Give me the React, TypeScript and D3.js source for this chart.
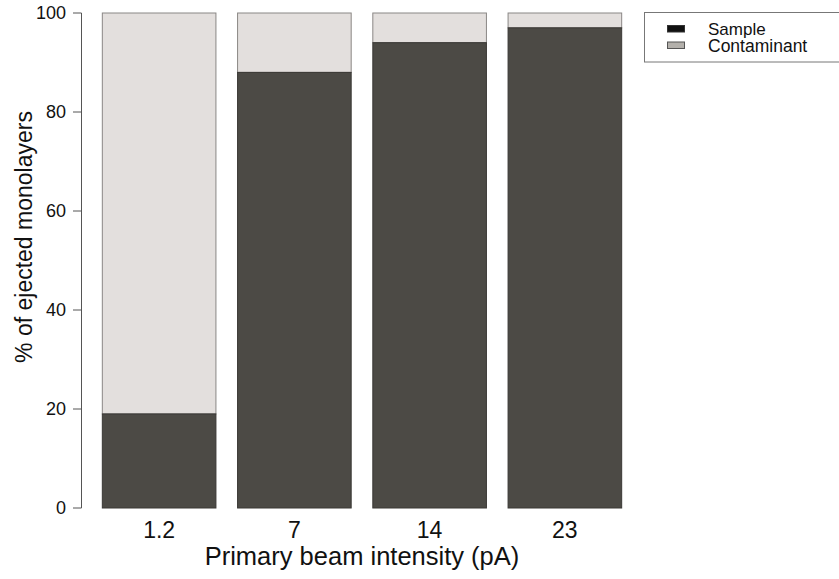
import React from "react";
import * as d3 from "d3";

const categories = ["1.2", "7", "14", "23"];
const sampleValues = [19, 88, 94, 97];
const contaminantValues = [81, 12, 6, 3];
const yTicks = [0, 20, 40, 60, 80, 100];
const legendLabels = ["Sample", "Contaminant"];

export default function App() {
  const W = 839, H = 579;
  const x = d3.scaleBand<string>().domain(categories).range([91.5, 632.5]).paddingInner(0.16).paddingOuter(0.08);
  const y = d3.scaleLinear().domain([0, 100]).range([508, 13]);
  const font = "Liberation Sans, Arial, Helvetica, sans-serif";
  const sampleFill = "#4c4a45";
  const contFill = "#e3dfdd";
  return (
    <svg width={W} height={H} style={{ position: "absolute", left: 0, top: 0 }} fontFamily={font}>
      <rect width={W} height={H} fill="#fff" />
      {categories.map((c, i) => {
        const x0 = x(c)!;
        const bw = x.bandwidth();
        const s = sampleValues[i];
        const ct = contaminantValues[i];
        return (
          <g key={c}>
            <rect x={x0} y={y(s + ct)} width={bw} height={y(s) - y(s + ct)} fill={contFill} stroke="#8a8785" strokeWidth={1} />
            <rect x={x0} y={y(s)} width={bw} height={y(0) - y(s)} fill={sampleFill} stroke="#3a3835" strokeWidth={1} />
          </g>
        );
      })}
      {/* y axis */}
      <line x1={81.5} x2={81.5} y1={y(0)} y2={y(100)} stroke="#555" strokeWidth={1} />
      {yTicks.map((t) => (
        <g key={t}>
          <line x1={73} x2={81.5} y1={y(t)} y2={y(t)} stroke="#555" strokeWidth={1} />
          <text x={66} y={y(t)} dy="0.36em" textAnchor="end" fontSize={18} fill="#111">{t}</text>
        </g>
      ))}
      <text transform={`translate(32,237) rotate(-90)`} textAnchor="middle" fontSize={23} fill="#111">% of ejected monolayers</text>
      {categories.map((c) => (
        <text key={c} x={x(c)! + x.bandwidth() / 2} y={538} textAnchor="middle" fontSize={23} fill="#111">{c}</text>
      ))}
      <text x={362} y={565} textAnchor="middle" fontSize={25.5} fill="#111">Primary beam intensity (pA)</text>
      {/* legend */}
      <rect x={644.5} y={12.5} width={200} height={49.5} fill="#fff" stroke="#777" strokeWidth={1} />
      <rect x={667.5} y={25.5} width={17} height={6.5} fill="#111" stroke="#333" strokeWidth={1} />
      <rect x={667.5} y={42} width={17} height={6.5} fill="#b3b0ab" stroke="#555" strokeWidth={1} />
      <text x={708} y={35} fontSize={17} fill="#111">{legendLabels[0]}</text>
      <text x={708} y={51.5} fontSize={17.5} fill="#111">{legendLabels[1]}</text>
    </svg>
  );
}
